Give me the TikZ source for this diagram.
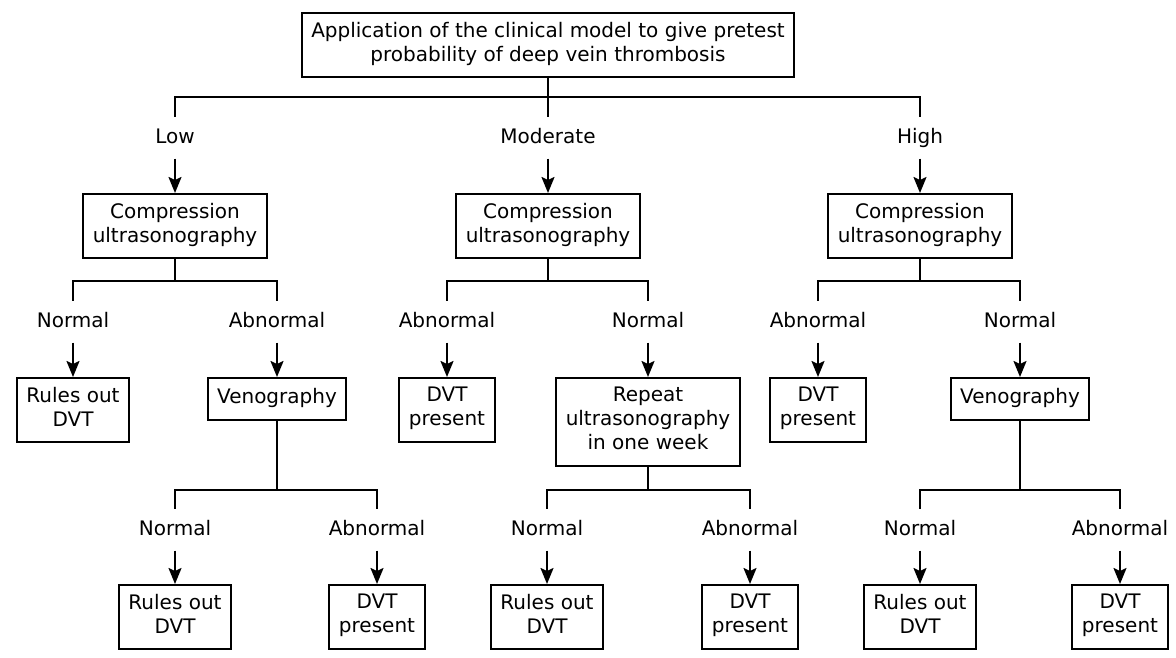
\documentclass[tikz,border=0pt]{standalone}
\usepackage{fontspec}
\setmainfont{DejaVu Sans}
\usepackage{tikz}
\usetikzlibrary{arrows.meta}
\tikzstyle{testbox} = [rectangle, anchor=north, draw=black, line width=2pt,
    align=center, inner xsep=9.5pt, inner ysep=9pt, execute at begin node=\strut,
    execute at end node=\strut]
\tikzstyle{branch} = [inner sep=0pt, minimum height=41pt, text height=15pt, text depth=4pt]
\tikzstyle{link} = [line width=2pt]
\tikzstyle{arrow} = [line width=2pt,-{Stealth[length=16pt,width=13pt,inset=3pt]}]

\begin{document}
\begin{tikzpicture}[x=1pt, y=-1pt, font=\fontsize{20}{24}\selectfont]
                \useasboundingbox (0,0) rectangle (1176,658);

                \node (model) [testbox] at (548,12) {Application of the clinical model to give pretest\\probability of deep vein thrombosis};

                \node (low) [branch] at (175,138) {Low};
                \node (moderate) [branch] at (548,138) {Moderate};
                \node (high) [branch] at (920,138) {High};

                \node (lowcus) [testbox] at (175,193) {Compression\\ultrasonography};
                \node (modcus) [testbox] at (548,193) {Compression\\ultrasonography};
                \node (highcus) [testbox] at (920,193) {Compression\\ultrasonography};

                \node (lownormal) [branch] at (73,322) {Normal};
                \node (lowabnormal) [branch] at (277,322) {Abnormal};
                \node (modabnormal) [branch] at (447,322) {Abnormal};
                \node (modnormal) [branch] at (648,322) {Normal};
                \node (highabnormal) [branch] at (818,322) {Abnormal};
                \node (highnormal) [branch] at (1020,322) {Normal};

                \node (lowrules) [testbox] at (73,377) {Rules out\\DVT};
                \node (lowveno) [testbox] at (277,377) {Venography};
                \node (moddvt) [testbox] at (447,377) {DVT\\present};
                \node (modrepeat) [testbox] at (648,377) {Repeat\\ultrasonography\\in one week};
                \node (highdvt) [testbox] at (818,377) {DVT\\present};
                \node (highveno) [testbox] at (1020,377) {Venography};

                \node (lvnormal) [branch] at (175,530) {Normal};
                \node (lvabnormal) [branch] at (377,530) {Abnormal};
                \node (rnormal) [branch] at (547,530) {Normal};
                \node (rabnormal) [branch] at (750,530) {Abnormal};
                \node (hvnormal) [branch] at (920,530) {Normal};
                \node (hvabnormal) [branch] at (1120,530) {Abnormal};

                \node (lvrules) [testbox] at (175,584) {Rules out\\DVT};
                \node (lvdvt) [testbox] at (377,584) {DVT\\present};
                \node (rrules) [testbox] at (547,584) {Rules out\\DVT};
                \node (rdvt) [testbox] at (750,584) {DVT\\present};
                \node (hvrules) [testbox] at (920,584) {Rules out\\DVT};
                \node (hvdvt) [testbox] at (1120,584) {DVT\\present};

                % pretest probability
                \draw [link] (model.south) -- ++(0,19) coordinate (topbus) -| (low.north);
                \draw [link] (topbus) -| (high.north);
                \draw [link] (topbus) -- (moderate.north);
                \draw [arrow] (low.south) -- (lowcus.north);
                \draw [arrow] (moderate.south) -- (modcus.north);
                \draw [arrow] (high.south) -- (highcus.north);

                % ultrasonography results
                \draw [link] (lowcus.south) -- ++(0,22) coordinate (lowbus) -| (lownormal.north);
                \draw [link] (lowbus) -| (lowabnormal.north);
                \draw [link] (modcus.south) -- ++(0,22) coordinate (modbus) -| (modabnormal.north);
                \draw [link] (modbus) -| (modnormal.north);
                \draw [link] (highcus.south) -- ++(0,22) coordinate (highbus) -| (highabnormal.north);
                \draw [link] (highbus) -| (highnormal.north);
                \draw [arrow] (lownormal.south) -- (lowrules.north);
                \draw [arrow] (lowabnormal.south) -- (lowveno.north);
                \draw [arrow] (modabnormal.south) -- (moddvt.north);
                \draw [arrow] (modnormal.south) -- (modrepeat.north);
                \draw [arrow] (highabnormal.south) -- (highdvt.north);
                \draw [arrow] (highnormal.south) -- (highveno.north);

                % second tests
                \draw [link] (lowveno.south) |- (lvnormal.north |- 0,490) -- (lvnormal.north);
                \draw [link] (lowveno.south) |- (lvabnormal.north |- 0,490) -- (lvabnormal.north);
                \draw [link] (modrepeat.south) |- (rnormal.north |- 0,490) -- (rnormal.north);
                \draw [link] (modrepeat.south) |- (rabnormal.north |- 0,490) -- (rabnormal.north);
                \draw [link] (highveno.south) |- (hvnormal.north |- 0,490) -- (hvnormal.north);
                \draw [link] (highveno.south) |- (hvabnormal.north |- 0,490) -- (hvabnormal.north);
                \draw [arrow] (lvnormal.south) -- (lvrules.north);
                \draw [arrow] (lvabnormal.south) -- (lvdvt.north);
                \draw [arrow] (rnormal.south) -- (rrules.north);
                \draw [arrow] (rabnormal.south) -- (rdvt.north);
                \draw [arrow] (hvnormal.south) -- (hvrules.north);
                \draw [arrow] (hvabnormal.south) -- (hvdvt.north);
            \end{tikzpicture}
\end{document}
